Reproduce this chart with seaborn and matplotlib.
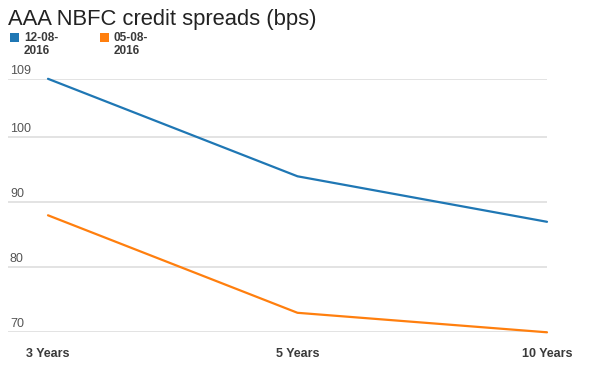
import pandas as pd
import seaborn as sns
import matplotlib.pyplot as plt
from matplotlib.patches import Rectangle

# ---- data ----
tenors = ["3 Years", "5 Years", "10 Years"]
spreads_12aug = [109, 94, 87]
spreads_05aug = [88, 73, 70]
series_names = ["12-08-\n2016", "05-08-\n2016"]
series_colors = ["#1f77b4", "#ff7f0e"]
y_ticks = [70, 80, 90, 100, 109]


def main():
    df = pd.DataFrame({
        "Tenor": tenors * 2,
        "Spread": spreads_12aug + spreads_05aug,
        "Date": [series_names[0]] * 3 + [series_names[1]] * 3,
    })

    sns.set_style("white")
    plt.rcParams["font.family"] = ["Liberation Sans", "DejaVu Sans"]

    fig = plt.figure(figsize=(5.96, 3.78), dpi=100)
    ax = fig.add_axes([8 / 596, 1 - 332.3 / 378, (547 - 8) / 596, (332.3 - 78.8) / 378])

    sns.lineplot(data=df, x="Tenor", y="Spread", hue="Date", palette=series_colors,
                 sort=False, linewidth=1.6, legend=False, ax=ax, clip_on=False)

    # x positions 0..2 land at 48 / 297 / 547 px
    ax.set_xlim(-40 / 249.5, 2)
    ax.set_ylim(70, 109)
    ax.set_xlabel("")
    ax.set_ylabel("")

    # horizontal gridlines with labels sitting above them at left
    ax.set_yticks(y_ticks)
    ax.set_yticklabels([])
    for v in y_ticks:
        ax.axhline(v, color="#e0e0e0", lw=1.3, zorder=0)
        ax.annotate(str(v), xy=(0, v), xycoords=("axes fraction", "data"),
                    xytext=(2, 5), textcoords="offset pixels",
                    fontsize=9, color="#555555", ha="left", va="baseline")

    ax.tick_params(axis="x", length=0, pad=11.5, labelsize=9, labelcolor="#3a3a3a")
    for lbl in ax.get_xticklabels():
        lbl.set_fontweight("bold")
    ax.tick_params(axis="y", length=0)
    sns.despine(ax=ax, left=True, bottom=True)

    # title
    fig.text(8 / 596, 1 - 25 / 378, "AAA NBFC credit spreads (bps)",
             fontsize=15.8, color="#222222", ha="left", va="baseline")

    # legend: square swatch + two-line bold label (baseline = last line)
    for i, (name, col) in enumerate(zip(series_names, series_colors)):
        x0 = 10 + i * 90
        fig.patches.append(Rectangle((x0 / 596, 1 - 42 / 378), 9 / 596, 9 / 378,
                                     transform=fig.transFigure, color=col, lw=0))
        fig.text((x0 + 14) / 596, 1 - 54 / 378, name, fontsize=8.5, fontweight="bold",
                 color="#3a3a3a", ha="left", va="baseline", linespacing=1.1)

    fig.savefig("out.png", dpi=100)


if __name__ == "__main__":
    main()
